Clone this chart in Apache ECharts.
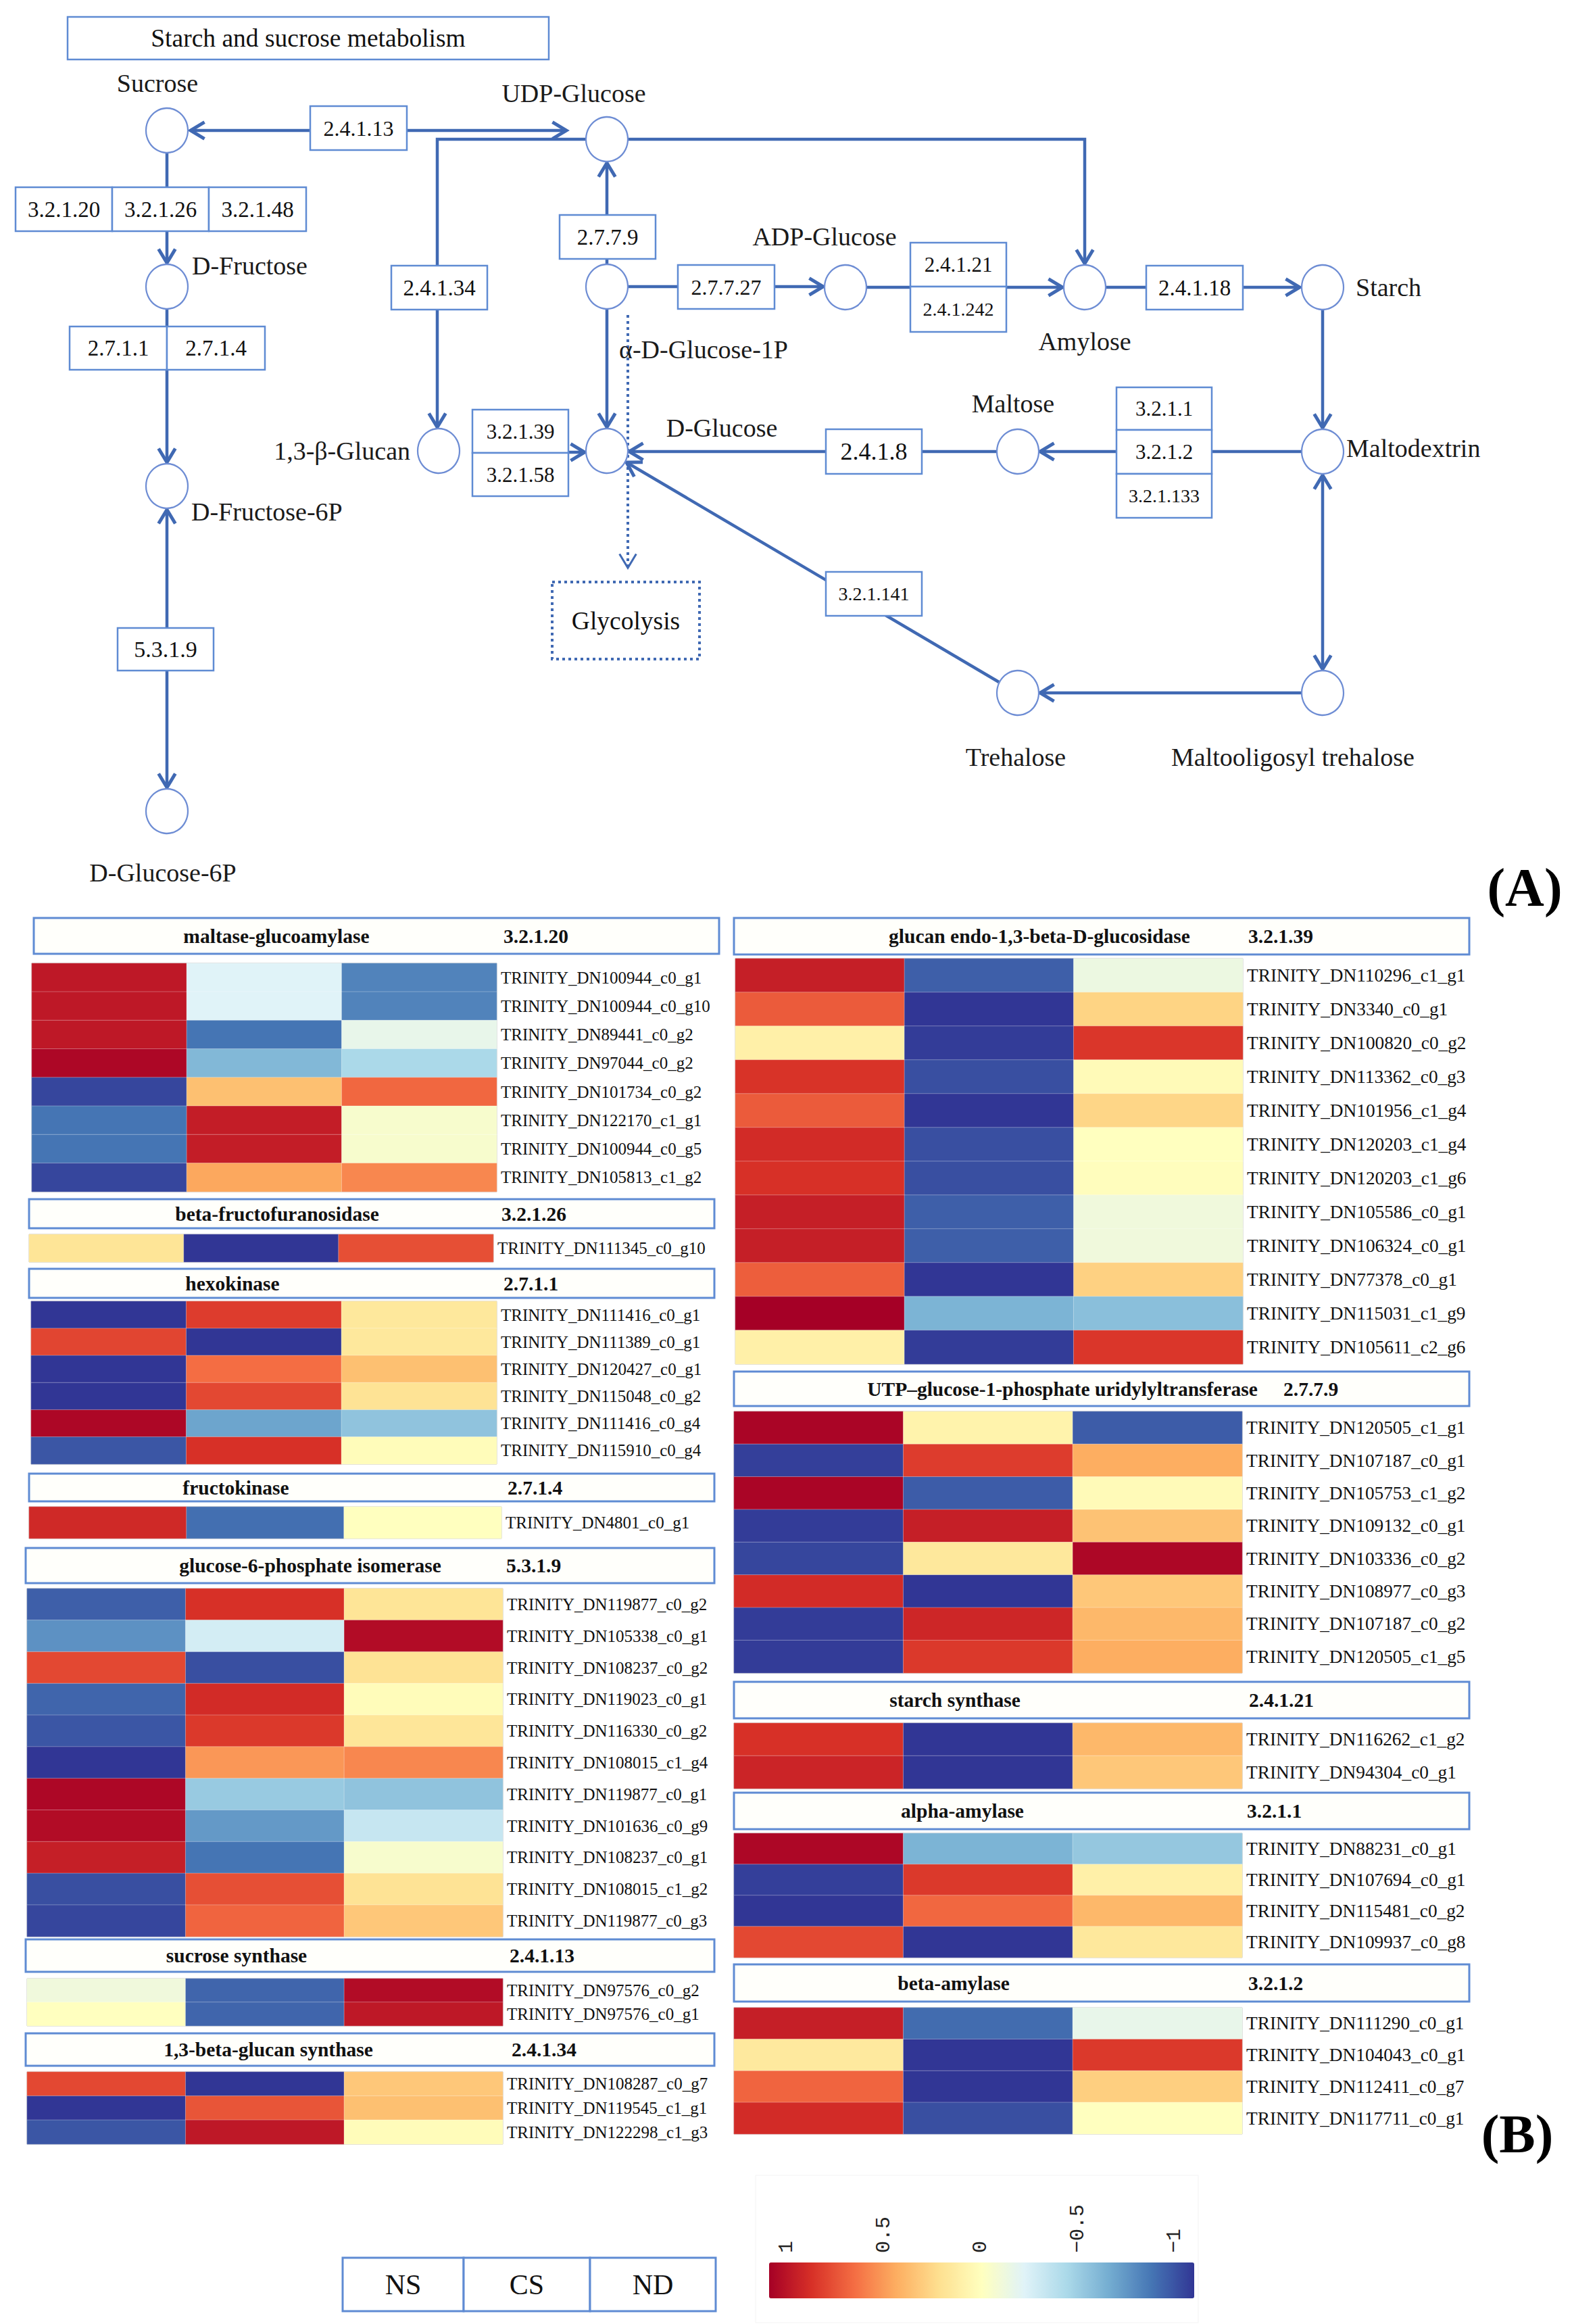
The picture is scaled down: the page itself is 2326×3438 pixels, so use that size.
<!DOCTYPE html>
<html><head><meta charset="utf-8">
<script src="https://cdn.jsdelivr.net/npm/echarts@6/dist/echarts.min.js"></script>
<style>html,body{margin:0;padding:0;background:#fff}#c{width:2326px;height:3438px}</style>
</head><body><div id="c"></div>
<script>
// ================= DATA =================
const samples = ['NS', 'CS', 'ND'];
const colorTicks = [1, 0.5, 0, -0.5, -1];

const panelTitles = [
  ['maltase-glucoamylase', '3.2.1.20'],
  ['beta-fructofuranosidase', '3.2.1.26'],
  ['hexokinase', '2.7.1.1'],
  ['fructokinase', '2.7.1.4'],
  ['glucose-6-phosphate isomerase', '5.3.1.9'],
  ['sucrose synthase', '2.4.1.13'],
  ['1,3-beta-glucan synthase', '2.4.1.34'],
  ['glucan endo-1,3-beta-D-glucosidase', '3.2.1.39'],
  ['UTP\u2013glucose-1-phosphate uridylyltransferase', '2.7.7.9'],
  ['starch synthase', '2.4.1.21'],
  ['alpha-amylase', '3.2.1.1'],
  ['beta-amylase', '3.2.1.2']
];

const mgaGenes = ['TRINITY_DN100944_c0_g1','TRINITY_DN100944_c0_g10','TRINITY_DN89441_c0_g2','TRINITY_DN97044_c0_g2','TRINITY_DN101734_c0_g2','TRINITY_DN122170_c1_g1','TRINITY_DN100944_c0_g5','TRINITY_DN105813_c1_g2'];
const mgaValues = [[0.9,-0.2,-0.75],[0.9,-0.2,-0.75],[0.9,-0.8,-0.15],[0.97,-0.55,-0.4],[-0.95,0.33,0.62],[-0.8,0.88,-0.05],[-0.8,0.88,-0.05],[-0.95,0.42,0.52]];

const bfrGenes = ['TRINITY_DN111345_c0_g10'];
const bfrValues = [[0.17,-1,0.7]];

const hxkGenes = ['TRINITY_DN111416_c0_g1','TRINITY_DN111389_c0_g1','TRINITY_DN120427_c0_g1','TRINITY_DN115048_c0_g2','TRINITY_DN111416_c0_g4','TRINITY_DN115910_c0_g4'];
const hxkValues = [[-1,0.76,0.15],[0.73,-1,0.15],[-1,0.6,0.33],[-1,0.72,0.18],[0.97,-0.63,-0.5],[-0.9,0.8,0.02]];

const frkGenes = ['TRINITY_DN4801_c0_g1'];
const frkValues = [[0.83,-0.82,0.0]];

const gpiGenes = ['TRINITY_DN119877_c0_g2','TRINITY_DN105338_c0_g1','TRINITY_DN108237_c0_g2','TRINITY_DN119023_c0_g1','TRINITY_DN116330_c0_g2','TRINITY_DN108015_c1_g4','TRINITY_DN119877_c0_g1','TRINITY_DN101636_c0_g9','TRINITY_DN108237_c0_g1','TRINITY_DN108015_c1_g2','TRINITY_DN119877_c0_g3'];
const gpiValues = [[-0.87,0.8,0.17],[-0.7,-0.25,0.95],[0.72,-0.92,0.18],[-0.85,0.82,0.02],[-0.9,0.77,0.16],[-1,0.47,0.52],[0.97,-0.47,-0.5],[0.95,-0.67,-0.3],[0.87,-0.8,-0.05],[-0.92,0.7,0.18],[-0.95,0.63,0.3]];

const susGenes = ['TRINITY_DN97576_c0_g2','TRINITY_DN97576_c0_g1'];
const susValues = [[-0.1,-0.85,0.95],[0.0,-0.85,0.9]];

const gscGenes = ['TRINITY_DN108287_c0_g7','TRINITY_DN119545_c1_g1','TRINITY_DN122298_c1_g3'];
const gscValues = [[0.72,-1,0.3],[-1,0.68,0.33],[-0.9,0.9,0.02]];

const gluGenes = ['TRINITY_DN110296_c1_g1','TRINITY_DN3340_c0_g1','TRINITY_DN100820_c0_g2','TRINITY_DN113362_c0_g3','TRINITY_DN101956_c1_g4','TRINITY_DN120203_c1_g4','TRINITY_DN120203_c1_g6','TRINITY_DN105586_c0_g1','TRINITY_DN106324_c0_g1','TRINITY_DN77378_c0_g1','TRINITY_DN115031_c1_g9','TRINITY_DN105611_c2_g6'];
const gluValues = [[0.87,-0.87,-0.12],[0.66,-1,0.25],[0.1,-0.98,0.78],[0.79,-0.92,0.03],[0.66,-1,0.24],[0.82,-0.92,0.0],[0.8,-0.92,0.01],[0.87,-0.87,-0.1],[0.87,-0.87,-0.1],[0.65,-1,0.26],[1.0,-0.57,-0.52],[0.1,-0.98,0.78]];

const utpGenes = ['TRINITY_DN120505_c1_g1','TRINITY_DN107187_c0_g1','TRINITY_DN105753_c1_g2','TRINITY_DN109132_c0_g1','TRINITY_DN103336_c0_g2','TRINITY_DN108977_c0_g3','TRINITY_DN107187_c0_g2','TRINITY_DN120505_c1_g5'];
const utpValues = [[0.98,0.08,-0.88],[-0.97,0.76,0.4],[0.98,-0.88,0.03],[-0.98,0.87,0.32],[-0.95,0.15,0.97],[0.82,-1,0.3],[-0.98,0.84,0.36],[-0.98,0.77,0.4]];

const ssyGenes = ['TRINITY_DN116262_c1_g2','TRINITY_DN94304_c0_g1'];
const ssyValues = [[0.8,-1,0.36],[0.85,-1,0.3]];

const amyGenes = ['TRINITY_DN88231_c0_g1','TRINITY_DN107694_c0_g1','TRINITY_DN115481_c0_g2','TRINITY_DN109937_c0_g8'];
const amyValues = [[0.97,-0.57,-0.48],[-0.97,0.77,0.1],[-1,0.62,0.36],[0.72,-1,0.15]];

const bamGenes = ['TRINITY_DN111290_c0_g1','TRINITY_DN104043_c0_g1','TRINITY_DN112411_c0_g7','TRINITY_DN117711_c0_g1'];
const bamValues = [[0.87,-0.83,-0.15],[0.14,-1,0.77],[0.63,-1,0.27],[0.82,-0.92,0.0]];

// Pathway (panel A)
const pathwayTitle = 'Starch and sucrose metabolism';
const metabolites = ['Sucrose','UDP-Glucose','D-Fructose','D-Fructose-6P','D-Glucose-6P','\u03b1-D-Glucose-1P','1,3-\u03b2-Glucan','D-Glucose','ADP-Glucose','Amylose','Starch','Maltodextrin','Maltose','Trehalose','Maltooligosyl trehalose'];
const ecNumbers = ['2.4.1.13','3.2.1.20','3.2.1.26','3.2.1.48','2.7.1.1','2.7.1.4','5.3.1.9','2.4.1.34','2.7.7.9','2.7.7.27','2.4.1.21','2.4.1.242','2.4.1.18','3.2.1.39','3.2.1.58','3.2.1.1','3.2.1.2','3.2.1.133','2.4.1.8','3.2.1.141'];
const otherPathway = 'Glycolysis';
const panelLetters = ['(A)', '(B)'];

// ================= LAYOUT (positions / sizes / styles) =================
const W = 2326, H = 3438;
const SERIF = '"Liberation Serif", "Times New Roman", serif';
const EDGE = '#4069b3', BOXC = '#5f8bd3', CIRC = '#6e8dd4';
const RDYLBU = ['#313695','#4575b4','#74add1','#abd9e9','#e0f3f8','#ffffbf','#fee090','#fdae61','#f46d43','#d73027','#a50026'];

const metaPos = {
  'Sucrose':[247,193], 'UDP-Glucose':[898,206], 'D-Fructose':[247,424], 'D-Fructose-6P':[247,719],
  'D-Glucose-6P':[247,1200], '\u03b1-D-Glucose-1P':[898,424], '1,3-\u03b2-Glucan':[649,667], 'D-Glucose':[898,667],
  'ADP-Glucose':[1251,425], 'Amylose':[1605,425], 'Starch':[1957,425], 'Maltodextrin':[1957,668],
  'Maltose':[1506,668], 'Trehalose':[1506,1025], 'Maltooligosyl trehalose':[1957,1025]
};
const metaLabel = {
  'Sucrose':[233,123,'center'], 'UDP-Glucose':[849,138,'center'], 'D-Fructose':[284,393,'left'],
  'D-Fructose-6P':[283,757,'left'], 'D-Glucose-6P':[241,1291,'center'], '\u03b1-D-Glucose-1P':[916,517,'left'],
  '1,3-\u03b2-Glucan':[607,667,'right'], 'D-Glucose':[1068,633,'center'], 'ADP-Glucose':[1220,350,'center'],
  'Amylose':[1605,505,'center'], 'Starch':[2006,425,'left'], 'Maltodextrin':[1992,663,'left'],
  'Maltose':[1499,597,'center'], 'Trehalose':[1503,1120,'center'], 'Maltooligosyl trehalose':[1913,1120,'center']
};
const ecBox = {
  '2.4.1.13':[459,157,602,222,32], '3.2.1.20':[23,277,166,342,33], '3.2.1.26':[166,277,309,342,33], '3.2.1.48':[309,277,453,342,33],
  '2.7.1.1':[103,483,247,547,33], '2.7.1.4':[247,483,392,547,33], '5.3.1.9':[174,929,316,992,34], '2.4.1.34':[579,393,721,458,33],
  '2.7.7.9':[828,318,970,383,33], '2.7.7.27':[1003,392,1146,457,32], '2.4.1.21':[1347,359,1489,424,31], '2.4.1.242':[1347,424,1489,491,28],
  '2.4.1.18':[1696,393,1839,458,33], '3.2.1.39':[699,606,841,670,31], '3.2.1.58':[699,670,841,734,31],
  '3.2.1.1':[1652,573,1793,636,31], '3.2.1.2':[1652,636,1793,701,31], '3.2.1.133':[1652,701,1793,766,28],
  '2.4.1.8':[1222,635,1364,701,36], '3.2.1.141':[1222,846,1364,911,28]
};
const diagramEdges = [
  {p:[[459,193],[282,193]], head:true},
  {p:[[602,193],[838,193]], head:true},
  {p:[[867,206],[647,206],[647,632]], head:true},
  {p:[[929,206],[1605,206],[1605,390]], head:true},
  {p:[[247,226],[247,389]], head:true},
  {p:[[247,457],[247,684]], head:true},
  {p:[[247,754],[247,1165]], head:true, tail:true},
  {p:[[898,391],[898,241]], head:true},
  {p:[[929,424],[1218,424]], head:true},
  {p:[[1282,425],[1572,425]], head:true},
  {p:[[1636,425],[1923,425]], head:true},
  {p:[[898,457],[898,632]], head:true},
  {p:[[1957,458],[1957,633]], head:true},
  {p:[[1926,668],[1539,668]], head:true},
  {p:[[1475,668],[931,668]], head:true},
  {p:[[699,669],[865,669]], head:true},
  {p:[[1957,703],[1957,990]], head:true, tail:true},
  {p:[[1926,1025],[1539,1025]], head:true},
  {p:[[1478,1009],[927,684]], head:true},
  {p:[[929,466],[929,840]], head:true, dotted:true}
];
const titleBox = [100,25,812,88];
const glycoBox = [817,861,1035,975];
const letterPos = [[2256,1313],[2245,3157]];
const legendCells = [[507,3340,686,3419],[686,3340,873,3419],[873,3340,1059,3419]];

const panels = [
  {genes:mgaGenes, values:mgaValues, t:panelTitles[0], head:[50,1358,1064,1411], nameX:409, ecX:745, cell:[47,1425,735,1763], fs:25},
  {genes:bfrGenes, values:bfrValues, t:panelTitles[1], head:[43,1774,1057,1817], nameX:410, ecX:742, cell:[43,1826,730,1867], fs:25},
  {genes:hxkGenes, values:hxkValues, t:panelTitles[2], head:[43,1877,1057,1920], nameX:344, ecX:745, cell:[46,1925,735,2166], fs:25},
  {genes:frkGenes, values:frkValues, t:panelTitles[3], head:[43,2180,1057,2221], nameX:349, ecX:751, cell:[43,2229,742,2276], fs:25},
  {genes:gpiGenes, values:gpiValues, t:panelTitles[4], head:[38,2290,1057,2342], nameX:459, ecX:749, cell:[40,2350,744,2865], fs:25},
  {genes:susGenes, values:susValues, t:panelTitles[5], head:[38,2869,1057,2917], nameX:350, ecX:754, cell:[40,2927,744,2997], fs:25},
  {genes:gscGenes, values:gscValues, t:panelTitles[6], head:[38,3008,1057,3056], nameX:397, ecX:757, cell:[40,3065,744,3172], fs:25},
  {genes:gluGenes, values:gluValues, t:panelTitles[7], head:[1086,1358,2174,1412], nameX:1538, ecX:1847, cell:[1088,1418,1839,2018], fs:27.3},
  {genes:utpGenes, values:utpValues, t:panelTitles[8], head:[1086,2029,2174,2080], nameX:1572, ecX:1899, cell:[1086,2088,1838,2475], fs:27.3},
  {genes:ssyGenes, values:ssyValues, t:panelTitles[9], head:[1086,2488,2174,2542], nameX:1413, ecX:1848, cell:[1086,2549,1838,2646], fs:27.3},
  {genes:amyGenes, values:amyValues, t:panelTitles[10], head:[1086,2652,2174,2706], nameX:1424, ecX:1845, cell:[1086,2712,1838,2896], fs:27.3},
  {genes:bamGenes, values:bamValues, t:panelTitles[11], head:[1086,2906,2174,2961], nameX:1411, ecX:1847, cell:[1086,2970,1838,3157], fs:27.3}
];

// ================= BUILD =================
const grids = [{left:0, top:0, width:W, height:H, show:false}];
const xAxes = [{gridIndex:0, type:'value', min:0, max:W, show:false}];
const yAxes = [{gridIndex:0, type:'value', min:0, max:H, inverse:true, show:false}];
const series = [];
const heatIdx = [];

panels.forEach(function (p) {
  const gi = grids.length;
  grids.push({left:p.cell[0], top:p.cell[1], width:p.cell[2]-p.cell[0], height:p.cell[3]-p.cell[1],
    show:true, borderColor:'#a8a8a8', borderWidth:1, backgroundColor:'transparent'});
  xAxes.push({gridIndex:gi, type:'category', data:samples, show:false});
  yAxes.push({gridIndex:gi, type:'category', data:p.genes, inverse:true, position:'right',
    axisLine:{show:false}, axisTick:{show:false}, splitLine:{show:false},
    axisLabel:{interval:0, margin:6, fontFamily:SERIF, fontSize:p.fs, color:'#111'}});
  const d = [];
  p.values.forEach(function (row, r) { row.forEach(function (v, c) { d.push([c, r, v]); }); });
  heatIdx.push(series.length);
  series.push({type:'heatmap', xAxisIndex:gi, yAxisIndex:gi, data:d, silent:true,
    itemStyle:{borderColor:'rgba(255,255,255,0.3)', borderWidth:1}, emphasis:{disabled:true}});
});

// colour-bar tick labels axis
const tg = grids.length;
grids.push({left:1164, top:3333, width:574, height:1, show:false});
xAxes.push({gridIndex:tg, type:'value', min:-1, max:1, interval:0.5, inverse:true, position:'top',
  axisLine:{show:false}, axisTick:{show:false}, splitLine:{show:false},
  axisLabel:{customValues:colorTicks, rotate:90, margin:0, fontFamily:'"Liberation Mono", monospace', fontSize:30, color:'#222',
    formatter:function (v) { return String(v).replace('-', '\u2212'); }}});
yAxes.push({gridIndex:tg, type:'value', show:false, min:0, max:1});

function chevron(a, b) {
  const dx = b[0]-a[0], dy = b[1]-a[1], L = Math.hypot(dx, dy);
  const vx = -dx/L, vy = -dy/L, len = 24, th = 31*Math.PI/180;
  const c = Math.cos(th), s = Math.sin(th);
  const p1 = [b[0] + len*(vx*c - vy*s), b[1] + len*(vx*s + vy*c)];
  const p2 = [b[0] + len*(vx*c + vy*s), b[1] + len*(-vx*s + vy*c)];
  return [p1, b, p2];
}

// edges
series.push({type:'custom', xAxisIndex:0, yAxisIndex:0, silent:true, clip:false, z:2,
  data: diagramEdges.map(function (e) { return e.p[0]; }),
  renderItem: function (params, api) {
    const e = diagramEdges[params.dataIndex];
    const pts = e.p.map(function (q) { return api.coord(q); });
    const dash = e.dotted ? [4,5] : null;
    const ch = [{type:'polyline', shape:{points:pts}, style:{stroke:EDGE, lineWidth:e.dotted?4:4.5, fill:null, lineDash:dash}}];
    const n = pts.length;
    if (e.head) ch.push({type:'polyline', shape:{points:chevron(pts[n-2], pts[n-1])}, style:{stroke:EDGE, lineWidth:e.dotted?3:5, fill:null}});
    if (e.tail) ch.push({type:'polyline', shape:{points:chevron(pts[1], pts[0])}, style:{stroke:EDGE, lineWidth:5, fill:null}});
    return {type:'group', children:ch};
  }});

// metabolite circles
series.push({type:'scatter', xAxisIndex:0, yAxisIndex:0, silent:true, z:4, symbol:'circle', symbolSize:[62,66],
  itemStyle:{color:'#fff', borderColor:CIRC, borderWidth:2.3, opacity:1},
  data: metabolites.map(function (m) { return metaPos[m]; })});

// metabolite labels
series.push({type:'custom', xAxisIndex:0, yAxisIndex:0, silent:true, clip:false, z:5,
  data: metabolites.map(function (m) { return metaLabel[m].slice(0,2); }),
  renderItem: function (params, api) {
    const m = metabolites[params.dataIndex], L = metaLabel[m];
    const p = api.coord([L[0], L[1]]);
    return {type:'text', x:p[0], y:p[1], style:{text:m, fontSize:38, fontFamily:SERIF, fill:'#1a1a1a', align:L[2], verticalAlign:'middle'}};
  }});

// enzyme boxes + title + glycolysis + legend cells
const boxItems = ecNumbers.map(function (ec) { const b = ecBox[ec]; return {t:ec, r:b.slice(0,4), fs:b[4]}; });
boxItems.push({t:pathwayTitle, r:titleBox, fs:37.5});
boxItems.push({t:otherPathway, r:glycoBox, fs:37.5, dotted:true});
samples.forEach(function (s, i) { boxItems.push({t:s, r:legendCells[i], fs:42, lw:3}); });
series.push({type:'custom', xAxisIndex:0, yAxisIndex:0, silent:true, clip:false, z:6,
  data: boxItems.map(function (b) { return [b.r[0], b.r[1]]; }),
  renderItem: function (params, api) {
    const b = boxItems[params.dataIndex];
    const p0 = api.coord([b.r[0], b.r[1]]), p1 = api.coord([b.r[2], b.r[3]]);
    return {type:'group', children:[
      {type:'rect', shape:{x:p0[0], y:p0[1], width:p1[0]-p0[0], height:p1[1]-p0[1]},
        style:{fill:'#fff', stroke:b.dotted ? EDGE : BOXC, lineWidth:b.dotted ? 4 : (b.lw || 2.5), lineDash:b.dotted ? [4,5] : null}},
      {type:'text', x:(p0[0]+p1[0])/2, y:(p0[1]+p1[1])/2,
        style:{text:b.t, fontSize:b.fs, fontFamily:SERIF, fill:'#111', align:'center', verticalAlign:'middle'}}
    ]};
  }});

// heatmap panel headers
series.push({type:'custom', xAxisIndex:0, yAxisIndex:0, silent:true, clip:false, z:6,
  data: panels.map(function (p) { return [p.head[0], p.head[1]]; }),
  renderItem: function (params, api) {
    const p = panels[params.dataIndex];
    const p0 = api.coord([p.head[0], p.head[1]]), p1 = api.coord([p.head[2], p.head[3]]);
    const cy = (p0[1]+p1[1])/2;
    const nx = api.coord([p.nameX, 0])[0], ex = api.coord([p.ecX, 0])[0];
    return {type:'group', children:[
      {type:'rect', shape:{x:p0[0], y:p0[1], width:p1[0]-p0[0], height:p1[1]-p0[1]}, style:{fill:'#fffffb', stroke:BOXC, lineWidth:3}},
      {type:'text', x:nx, y:cy, style:{text:p.t[0], fontSize:29.5, fontWeight:'bold', fontFamily:SERIF, fill:'#111', align:'center', verticalAlign:'middle'}},
      {type:'text', x:ex, y:cy, style:{text:p.t[1], fontSize:29.5, fontWeight:'bold', fontFamily:SERIF, fill:'#111', align:'left', verticalAlign:'middle'}}
    ]};
  }});

// panel letters + faint colour-bar frame
series.push({type:'custom', xAxisIndex:0, yAxisIndex:0, silent:true, clip:false, z:1,
  data: panelLetters.map(function (t, i) { return letterPos[i]; }),
  renderItem: function (params, api) {
    const p = api.coord(letterPos[params.dataIndex]);
    const ch = [{type:'text', x:p[0], y:p[1], style:{text:panelLetters[params.dataIndex], fontSize:80, fontWeight:'bold', fontFamily:SERIF, fill:'#000', align:'center', verticalAlign:'middle'}}];
    if (params.dataIndex === 1) {
      const a = api.coord([1118, 3218]), b = api.coord([1773, 3436]);
      ch.push({type:'rect', shape:{x:a[0], y:a[1], width:b[0]-a[0], height:b[1]-a[1]}, style:{fill:null, stroke:'#f3f3f3', lineWidth:1}});
    }
    return {type:'group', children:ch};
  }});

const option = {
  animation:false,
  backgroundColor:'#fff',
  grid:grids, xAxis:xAxes, yAxis:yAxes,
  visualMap:{type:'continuous', min:-1, max:1, seriesIndex:heatIdx, orient:'horizontal', inverse:true,
    calculable:false, left:1138, top:3347, itemWidth:53, itemHeight:629, padding:0, text:null, hoverLink:false,
    inRange:{color:RDYLBU}},
  series:series
};

const chart = echarts.init(document.getElementById('c'), null, {renderer:'svg', width:W, height:H});
chart.setOption(option);
</script>
</body></html>
